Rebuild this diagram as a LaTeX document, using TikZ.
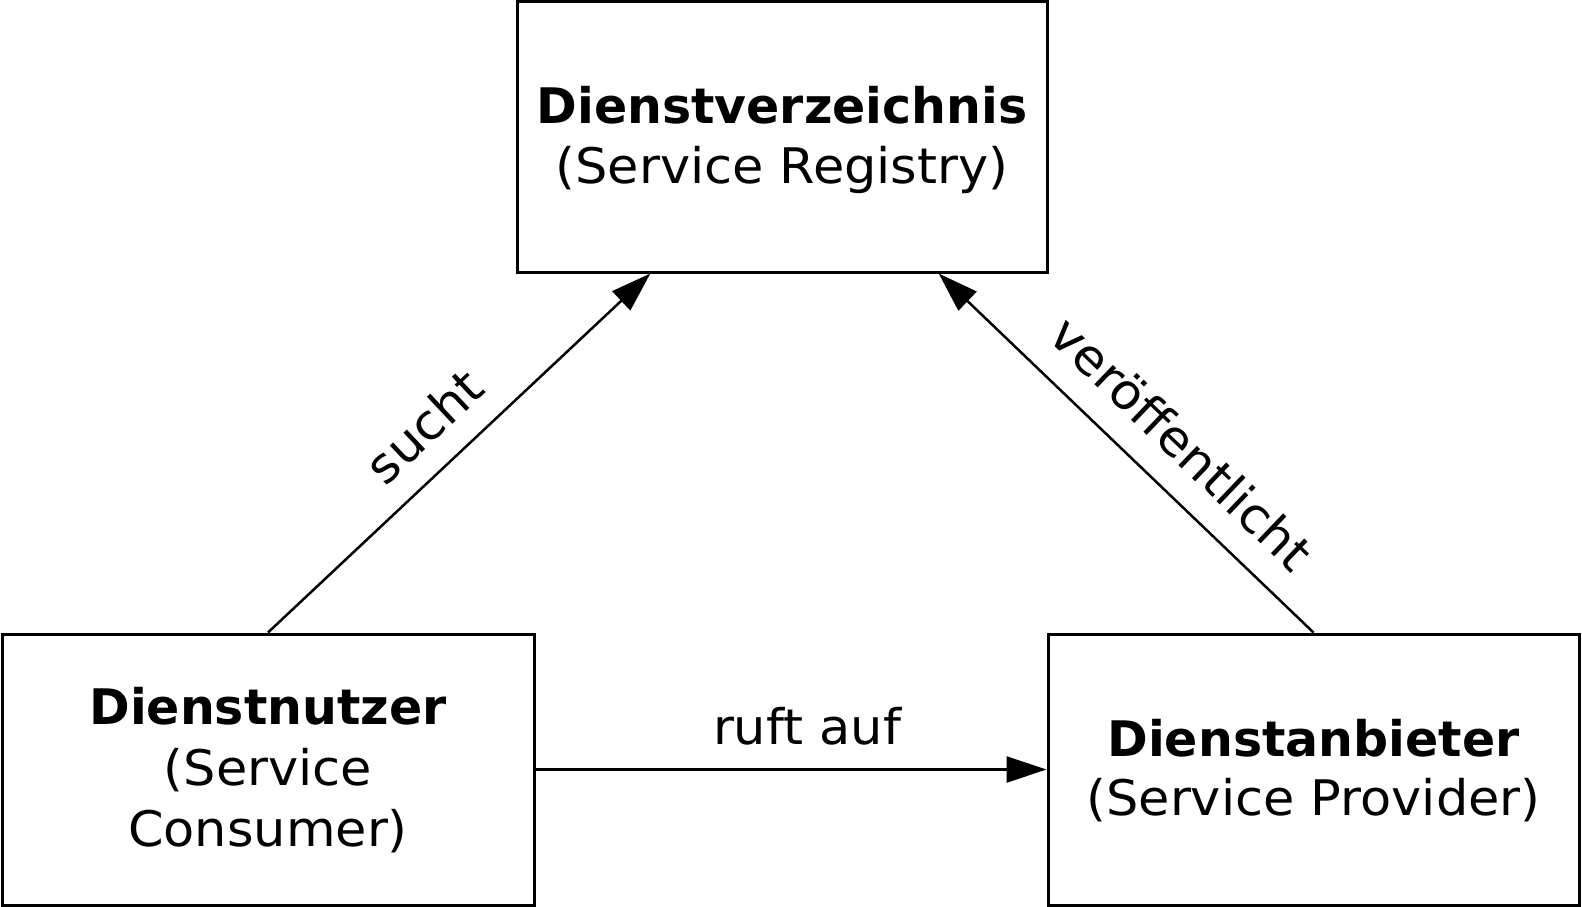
\documentclass[tikz,border=0pt]{standalone}
\usepackage{fontspec}
\setmainfont{DejaVu Sans}[FakeStretch=1.04]
\newfontfamily\dvbold{DejaVu Sans Bold}
\usetikzlibrary{arrows.meta,calc}
\begin{document}
\begin{tikzpicture}[x=1pt,y=-1pt,
  box/.style={draw,line width=3pt,inner sep=0pt},
  txt/.style={inner sep=0pt,anchor=base,font=\fontsize{49}{60}\selectfont},
  btxt/.style={txt,font=\fontsize{49}{60}\selectfont\dvbold},
  conn/.style={line width=2.5pt,-{Triangle[length=40pt,width=26pt]}},
  lbl/.style={inner sep=0pt,font=\fontsize{49}{60}\selectfont}]
\useasboundingbox (0,0) rectangle (1582,907);
\node[box,minimum width=530pt,minimum height=270pt] (reg) at (782,137) {};
\node[box,minimum width=532pt,minimum height=271pt] (cons) at (268,769.5) {};
\node[box,minimum width=531pt,minimum height=271pt] (prov) at (1313.5,769.5) {};
\node[btxt] (reg1) at (782,123) {Dienstverzeichnis};
\node[txt] (reg2) at (782,183) {(Service Registry)};
\node[btxt] (cons1) at (268,724) {Dienstnutzer};
\node[txt] (cons2) at (268,785) {(Service};
\node[txt] (cons3) at (268,846) {Consumer)};
\node[btxt] (prov1) at (1313.5,756) {Dienstanbieter};
\node[txt] (prov2) at (1313.5,815) {(Service Provider)};
\coordinate (rs1) at ($(reg.south west)!0.253!(reg.south east)$);
\coordinate (rs2) at ($(reg.south west)!0.794!(reg.south east)$);
\draw[conn] (cons.north) -- (rs1);
\draw[conn] (prov.north) -- (rs2);
\draw[conn] (cons.east) -- (prov.west);
\node[lbl,rotate=43.3] (l1) at (424,426) {sucht};
\node[lbl,rotate=-43.8] (l2) at (1182,443) {veröffentlicht};
\node[txt] (l3) at (807,744) {ruft auf};
\end{tikzpicture}
\end{document}
